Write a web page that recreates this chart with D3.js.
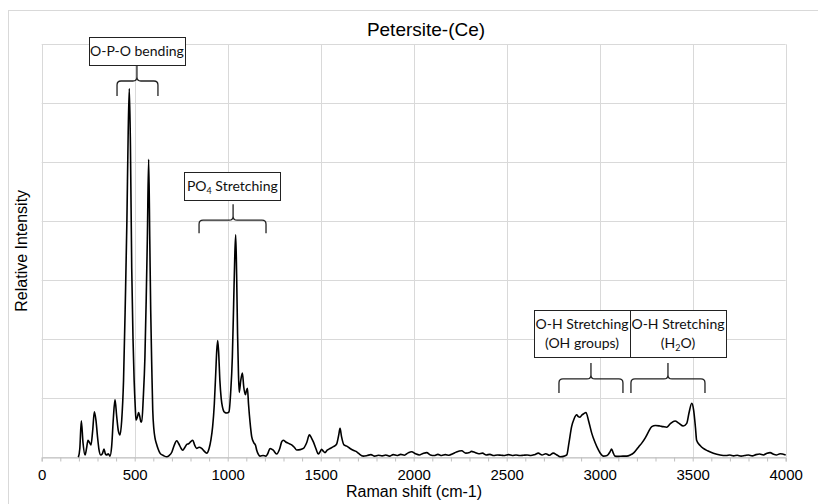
<!DOCTYPE html>
<html>
<head>
<meta charset="utf-8">
<script src="https://cdn.jsdelivr.net/npm/d3@7"></script>
<style>
  html, body { margin: 0; padding: 0; background: #fff; }
  svg { display: block; }
</style>
</head>
<body>
<svg id="chart" width="818" height="504"></svg>
<script>
// ---------- data ----------
const ramanShift = [197,205,213,222,233,241,249,257,265,274,283,292,300,308,317,326,335,342,349,358,367,376,385,394,403,412,421,430,440,450,458,465,471,477,484,491,497,503,507,514,521,528,533,538,546,555,562,568,575,581,586,592,597,603,609,617,626,636,648,660,672,685,700,712,726,737,748,758,770,780,790,800,812,822,833,846,860,872,887,900,910,919,928,936,941,946,951,958,965,972,979,985,995,1007,1016,1025,1032,1038,1043,1048,1053,1058,1062,1070,1079,1086,1095,1100,1106,1112,1120,1129,1140,1150,1156,1165,1174,1190,1205,1215,1228,1245,1263,1280,1290,1299,1312,1325,1344,1358,1371,1390,1407,1425,1439,1450,1460,1475,1487,1496,1505,1515,1523,1535,1550,1568,1585,1597,1604,1612,1625,1640,1658,1675,1690,1702,1729,1750,1770,1790,1810,1830,1850,1870,1890,1910,1930,1950,1970,1989,2010,2030,2050,2070,2090,2110,2130,2150,2170,2190,2210,2230,2258,2280,2300,2310,2330,2350,2370,2390,2410,2430,2450,2470,2490,2510,2530,2550,2570,2590,2610,2630,2650,2670,2690,2710,2730,2750,2770,2786,2810,2823,2835,2849,2862,2876,2885,2894,2905,2915,2926,2940,2957,2975,2993,3005,3019,3040,3055,3064,3072,3082,3100,3125,3145,3165,3181,3195,3210,3226,3245,3262,3280,3300,3324,3340,3360,3380,3405,3425,3449,3468,3480,3495,3505,3515,3521,3540,3557,3580,3611,3647,3680,3700,3720,3740,3760,3780,3800,3820,3840,3860,3880,3900,3916,3935,3950,3970,4000];
const intensity = [0,150,620,250,40,150,290,250,210,450,770,620,350,130,40,60,140,60,40,60,20,180,650,980,700,450,380,620,1300,2700,4000,5500,6250,5300,3200,2000,1300,850,630,680,760,680,600,600,1000,1700,2700,3700,5050,3700,2500,1500,800,480,330,230,140,70,40,20,10,30,90,200,280,230,160,120,170,220,230,260,290,210,150,170,150,110,70,150,300,520,900,1450,1800,1980,1800,1300,1000,850,780,760,750,770,1100,1700,2600,3400,3770,3100,2100,1400,1100,1300,1430,1200,1060,1120,1170,900,600,350,250,200,120,50,20,30,20,60,150,120,55,150,260,290,260,240,210,170,125,130,150,250,380,330,265,140,55,90,135,100,80,120,150,180,220,380,490,350,210,190,150,120,100,70,20,30,45,20,35,25,40,20,45,30,50,35,75,95,60,40,65,80,40,30,50,30,45,35,60,90,110,70,80,100,80,60,70,40,50,30,40,35,30,45,30,40,30,35,40,30,45,70,40,60,35,70,40,10,20,40,250,520,650,720,690,680,720,740,760,620,410,250,125,60,20,30,90,140,80,20,15,20,20,40,70,120,180,240,330,430,520,540,530,520,510,570,615,580,530,575,750,915,800,500,290,200,150,110,70,40,30,40,25,35,20,30,40,25,45,55,40,70,80,50,40,60,40];

const xTicks = [0,500,1000,1500,2000,2500,3000,3500,4000];
const yGrid = [0,1000,2000,3000,4000,5000,6000,7000];

const titleText = "Petersite-(Ce)";
const xLabel = "Raman shift (cm-1)";
const yLabel = "Relative Intensity";

// annotation labels (lines; subscript parts marked with sub)
const annLabels = [
  [[{t:"O-P-O bending"}]],
  [[{t:"PO"},{t:"4",sub:true},{t:" Stretching"}]],
  [[{t:"O-H Stretching"}],[{t:"(OH groups)"}]],
  [[{t:"O-H Stretching"}],[{t:"(H"},{t:"2",sub:true},{t:"O)"}]]
];
// brace spans in cm-1 (left, tip, right)
const braceFrom = [405, 846, 2781, 3168];
const braceTip  = [512, 1029, 2953, 3367];
const braceTo   = [625, 1206, 3125, 3566];
// brace heights in intensity units (horizontal bar, end tips, stem top)
const braceBar  = [6378, 4019, 1329, 1329];
const braceEnd  = [6124, 3798, 1090, 1090];
const braceStem = [6649, 4290, 1600, 1600];
// label box centres (cm-1) and vertical extents (intensity)
const boxCenter = [512, 1025, 2905, 3421];
const boxTop    = [7124, 4836, 2500, 2500];
const boxBottom = [6649, 4361, 1703, 1703];

// ---------- layout ----------
const svg = d3.select("#chart");
const W = 818, H = 504;
const margin = {left: 41.7, right: 818 - 785.7, top: 44.3, bottom: 504 - 457.3};
const iw = W - margin.left - margin.right;
const ih = H - margin.top - margin.bottom;

const x = d3.scaleLinear().domain([0, 4000]).range([margin.left, margin.left + iw]);
const y = d3.scaleLinear().domain([0, 7000]).range([margin.top + ih, margin.top]);

const gridColor = "#d9d9d9";

// outer chart border
svg.append("rect")
  .attr("x", 8.5).attr("y", 10.5)
  .attr("width", 900).attr("height", 600)
  .attr("fill", "none").attr("stroke", gridColor).attr("stroke-width", 1);

// grid
const g = svg.append("g");
g.selectAll("line.h").data(yGrid).enter().append("line")
  .attr("x1", x(0)).attr("x2", x(4000))
  .attr("y1", d => Math.round(y(d)) + 0.5).attr("y2", d => Math.round(y(d)) + 0.5)
  .attr("stroke", gridColor).attr("stroke-width", 1);
g.selectAll("line.v").data(xTicks).enter().append("line")
  .attr("y1", y(0)).attr("y2", y(7000))
  .attr("x1", d => Math.round(x(d)) + 0.5).attr("x2", d => Math.round(x(d)) + 0.5)
  .attr("stroke", gridColor).attr("stroke-width", 1);

// x axis with minor ticks
const xAxis = d3.axisBottom(x)
  .tickValues(d3.range(0, 4001, 100))
  .tickSize(4)
  .tickFormat("");
const ax = svg.append("g")
  .attr("transform", `translate(0,${Math.round(y(0)) + 0.5})`)
  .call(xAxis);
ax.select(".domain").attr("stroke", "#bfbfbf");
ax.selectAll(".tick line").attr("stroke", "#bfbfbf");

const axLab = d3.axisBottom(x).tickValues(xTicks).tickSize(0).tickPadding(12)
  .tickFormat(d3.format("d"));
const ax2 = svg.append("g")
  .attr("transform", `translate(0,${Math.round(y(0))})`)
  .call(axLab);
ax2.select(".domain").remove();
ax2.selectAll("text")
  .attr("font-family", "Liberation Sans, Arial, sans-serif")
  .attr("font-size", 15)
  .attr("fill", "#000");

// spectrum line
const pts = ramanShift.map((r, i) => [r, intensity[i]]);
const line = d3.line().x(d => x(d[0])).y(d => y(d[1])).curve(d3.curveMonotoneX);
svg.append("path")
  .datum(pts)
  .attr("d", line)
  .attr("fill", "none")
  .attr("stroke", "#000")
  .attr("stroke-width", 1.6)
  .attr("stroke-linejoin", "round");

// title and axis labels
svg.append("text")
  .attr("x", 426).attr("y", 35.5)
  .attr("text-anchor", "middle")
  .attr("font-family", "Liberation Sans, Arial, sans-serif")
  .attr("font-size", 19)
  .text(titleText);

svg.append("text")
  .attr("x", 414).attr("y", 497)
  .attr("text-anchor", "middle")
  .attr("font-family", "Liberation Sans, Arial, sans-serif")
  .attr("font-size", 16)
  .text(xLabel);

svg.append("text")
  .attr("transform", `translate(27,${(y(0) + y(7000)) / 2}) rotate(-90)`)
  .attr("text-anchor", "middle")
  .attr("font-family", "Liberation Sans, Arial, sans-serif")
  .attr("font-size", 16)
  .text(yLabel);

// annotations
const annFont = "Lato, 'Open Sans', sans-serif";
const bw = 96;
annLabels.forEach((lines, i) => {
  const cx = x(boxCenter[i]);
  const top = y(boxTop[i]), bot = y(boxBottom[i]);
  svg.append("rect")
    .attr("x", Math.round(cx - bw / 2) + 0.5).attr("y", Math.round(top) + 0.5)
    .attr("width", bw).attr("height", Math.round(bot - top))
    .attr("fill", "#fff").attr("stroke", "#222").attr("stroke-width", 1);
  const n = lines.length;
  const lh = 19;
  const midY = (top + bot) / 2;
  lines.forEach((parts, j) => {
    const ty = midY + (j - (n - 1) / 2) * lh + 5;
    const t = svg.append("text")
      .attr("x", cx).attr("y", ty)
      .attr("text-anchor", "middle")
      .attr("font-family", annFont)
      .attr("font-size", 14)
      .attr("fill", "#111");
    parts.forEach((p, k) => {
      const ts = t.append("tspan").text(p.t);
      if (p.sub) ts.attr("font-size", 9).attr("dy", 3);
      else if (k > 0 && parts[k - 1].sub) ts.attr("dy", -3);
    });
  });

  // brace
  const x1 = x(braceFrom[i]), xm = x(braceTip[i]), x2 = x(braceTo[i]);
  const yb = y(braceBar[i]), ye = y(braceEnd[i]), ys = y(braceStem[i]);
  const r = 4;
  const p = `M${x1},${ye} L${x1},${yb + r} Q${x1},${yb} ${x1 + r},${yb} L${xm - r},${yb} Q${xm},${yb} ${xm},${yb - r} L${xm},${ys} M${xm},${yb - r} Q${xm},${yb} ${xm + r},${yb} L${x2 - r},${yb} Q${x2},${yb} ${x2},${yb + r} L${x2},${ye}`;
  svg.append("path").attr("d", p)
    .attr("fill", "none").attr("stroke", "#222").attr("stroke-width", 1.3);
});
</script>
</body>
</html>
